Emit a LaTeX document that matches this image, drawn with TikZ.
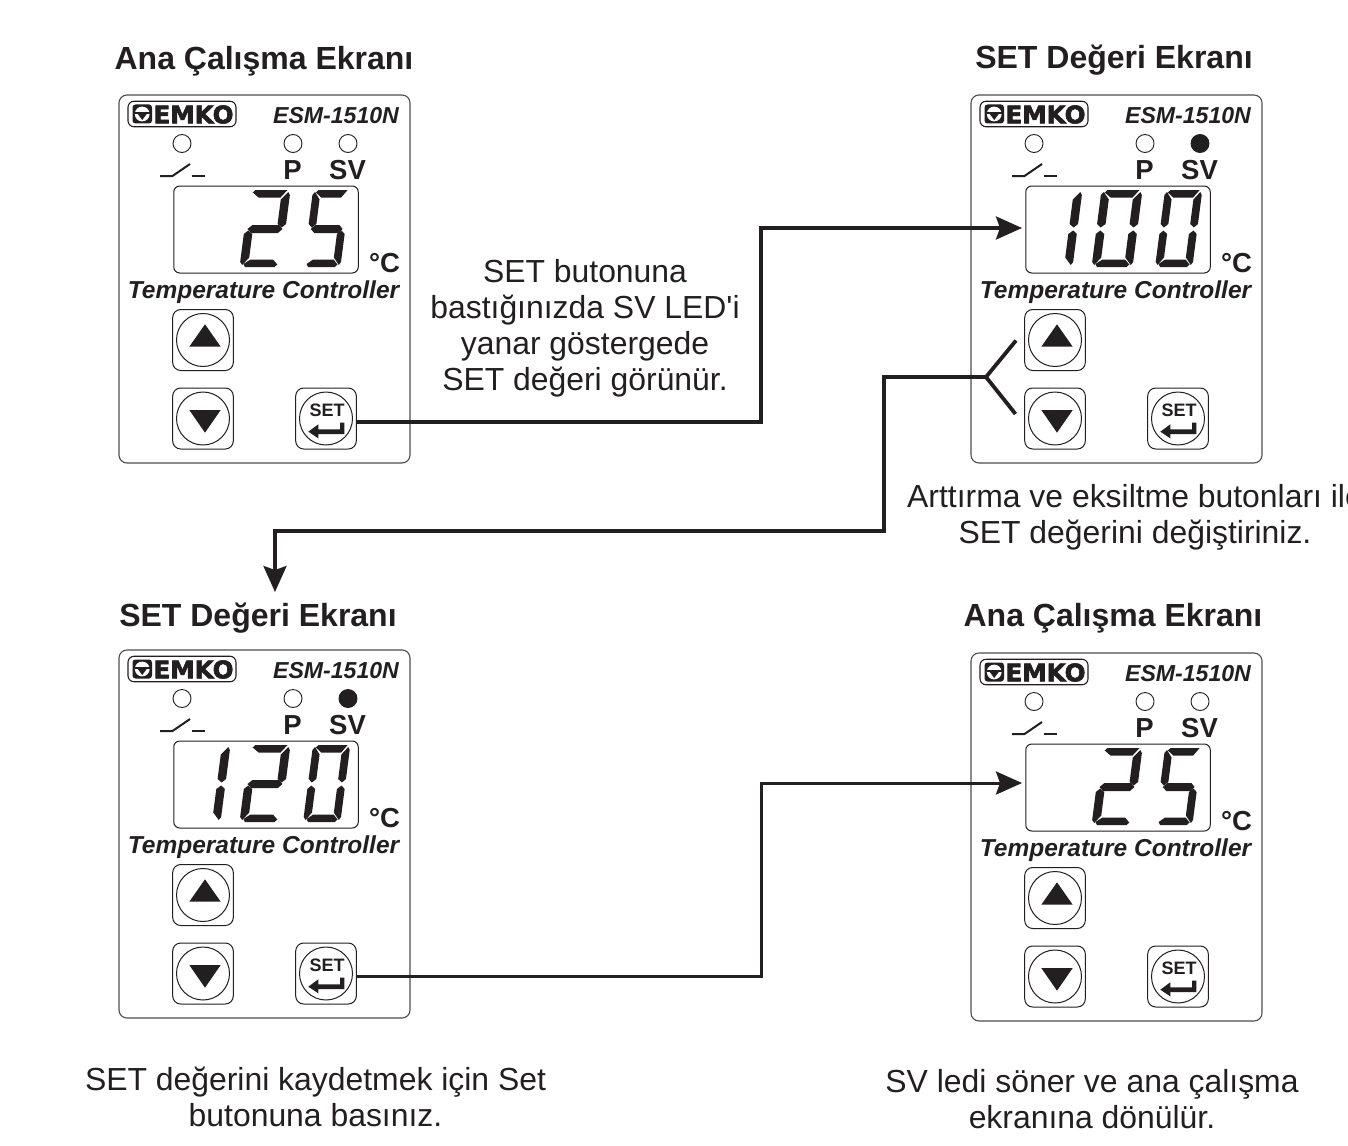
\documentclass[tikz,border=0pt]{standalone}
\usepackage{fontspec}
\usepackage{graphicx}
\setmainfont{Liberation Sans}
\newfontfamily\plainsans{Liberation Sans}
\newfontfamily\logofont[UprightFont=* Bold,FakeBold=2.5]{DejaVu Sans}
\usetikzlibrary{arrows.meta}
\definecolor{ink}{HTML}{231F20}
\definecolor{edge}{HTML}{4D4D4F}
\tikzset{
  panelbox/.style={draw=edge,line width=1.1pt,rounded corners=8pt},
  btnbox/.style={draw=ink,line width=1pt,rounded corners=8pt,minimum width=60.6pt,minimum height=61pt,inner sep=0pt,fill=white},
  btnring/.style={draw=ink,line width=1pt,circle,minimum size=53pt,inner sep=0pt},
  ledoff/.style={draw=ink,line width=0.9pt,circle,minimum size=18pt,inner sep=0pt},
  ledon/.style={ledoff,fill=ink},
  dispbox/.style={draw=ink,line width=1pt,rounded corners=6pt,minimum width=184.5pt,minimum height=87pt,inner sep=0pt},
  titletext/.style={font=\fontsize{32}{36}\selectfont\bfseries,text=ink,inner sep=0pt},
  bodytext/.style={font=\fontsize{31.9}{36}\selectfont,text=ink,align=center,inner sep=0pt},
  modeltext/.style={font=\fontsize{23.1}{28}\selectfont\bfseries\itshape,text=ink,inner sep=0pt},
  tempertext/.style={font=\fontsize{24.5}{28}\selectfont\bfseries\itshape,text=ink,inner sep=0pt},
  ledtext/.style={font=\fontsize{27.5}{30}\selectfont\bfseries,text=ink,inner sep=0pt},
  settext/.style={font=\fontsize{18}{20}\selectfont\bfseries,text=ink,inner sep=0pt},
  flowline/.style={draw=ink,line width=3.4pt,miter limit=10},
  flowarrow/.style={flowline,-{Stealth[length=26pt,width=23pt,inset=4pt]}},
}
% seven-segment pieces, local coordinates, y upward from the digit foot
\newcommand{\segA}{\fill[ink] (3,74.5)--(5.5,77)--(37.5,77)--(31.5,69.5)--(9.5,69.5)--cycle;}
\newcommand{\segB}{\fill[ink] (38.5,75)--(40.5,72)--(40.5,43)--(36.5,39.5)--(32,43)--(32,67.5)--cycle;}
\newcommand{\segC}{\fill[ink] (32,33)--(36.5,36.5)--(40.5,33)--(40.5,5)--(38.5,2)--(32,9.5)--cycle;}
\newcommand{\segD}{\fill[ink] (3,3)--(9.5,7.5)--(32,7.5)--(37,2.5)--(34.5,0)--(5,0)--cycle;}
\newcommand{\segE}{\fill[ink] (-0.5,33)--(3.5,36.5)--(8,33)--(8,9.5)--(2,2)--(-0.5,5)--cycle;}
\newcommand{\segF}{\fill[ink] (2,75)--(8,67.5)--(8,43)--(3.5,39.5)--(-0.5,43)--(-0.5,72)--cycle;}
\newcommand{\segG}{\fill[ink] (2.5,38)--(7,42)--(33.5,42)--(37.5,38)--(33.5,34)--(7,34)--cycle;}
\newcommand{\digitat}[2]{\begin{scope}[shift={(#1,267)},x=1pt,y=1pt,xslant=0.13]#2\end{scope}}
\newcommand{\digitnarrow}[2]{\begin{scope}[shift={(#1,267)},x=1pt,y=1pt,xslant=0.13,xscale=0.91]#2\end{scope}}
\newcommand{\twentyfive}{\digitat{240}{\segA\segB\segG\segE\segD}\digitnarrow{303.5}{\segA\segF\segG\segC\segD}}
\newcommand{\hundred}{\digitat{180}{\segB\segC}\digitat{240}{\segA\segB\segC\segD\segE\segF}\digitnarrow{303.5}{\segA\segB\segC\segD\segE\segF}}
\newcommand{\onetwenty}{\digitat{180}{\segB\segC}\digitat{240}{\segA\segB\segG\segE\segD}\digitnarrow{303.5}{\segA\segB\segC\segD\segE\segF}}
% #1 name prefix, #2 dx, #3 dy, #4 SV LED style, #5 digits, #6 y of signal entry at display, #7 y of signal exit
\newcommand{\controller}[7]{%
\begin{scope}[shift={(#2,#3)}]
  \node[panelbox,minimum width=291pt,minimum height=368pt,inner sep=0pt] (#1panel) at (264.5,279) {};
  \node[draw=ink,line width=1.1pt,rounded corners=6pt,minimum width=108pt,minimum height=25.5pt,inner sep=0pt] (#1logo) at (182,114) {};
  \fill[ink,rounded corners=3pt] (132.5,104.5) rectangle (152,123.5);
  \fill[white] (142.2,114) circle[radius=7.4pt];
  \fill[ink] (134.5,111.6) rectangle (150,113.6);
  \fill[ink] (137.5,113.6)--(147,113.6)--(142.2,120)--cycle;
  \node[inner sep=0pt,text=ink] (#1brand) at (193.5,114.5) {\resizebox{80pt}{18pt}{\logofont EMKO}};
  \node[modeltext] (#1model) at (336,115.5) {ESM-1510N};
  \node[ledoff] (#1ledr) at (182,143.5) {};
  \node[ledoff] (#1ledp) at (293,143.5) {};
  \node[#4] (#1ledsv) at (348,143.5) {};
  \draw[ink,line width=2pt] (160,176)--(172.5,176)--(190,164);
  \draw[ink,line width=2pt] (191.5,176)--(205,176);
  \node[ledtext] (#1p) at (292.5,170) {P};
  \node[ledtext] (#1sv) at (347.5,170) {SV};
  \node[dispbox] (#1disp) at (266,229.5) {};
  #5
  \node[ledtext] (#1deg) at (384.5,263) {°C};
  \node[tempertext] (#1temp) at (263.5,292.5) {Temperature Controller};
  \node[btnbox] (#1up) at (203,340) {};
  \node[btnring] (#1upr) at (203,340) {};
  \fill[ink] (189.3,346.7)--(220.7,346.7)--(205,324.3)--cycle;
  \node[btnbox] (#1down) at (203,418.5) {};
  \node[btnring] (#1downr) at (203,418.5) {};
  \fill[ink] (189.3,410)--(220.7,410)--(205,432.7)--cycle;
  \node[btnbox] (#1set) at (326,418.5) {};
  \node[btnring] (#1setr) at (326,418.5) {};
  \node[settext] (#1setl) at (327,410.5) {SET};
  \fill[ink] (308.3,431.7)--(318.3,424.3)--(318.3,429.3)--(340,429.3)--(340,422.7)--(344.3,422.7)--(344.3,434)--(318.3,434)--(318.3,438.3)--cycle;
  \coordinate (#1out) at (356.7,#7);
  \coordinate (#1in) at (170,#6);
  \coordinate (#1upin) at (164,340.5);
  \coordinate (#1downin) at (163.5,414);
\end{scope}}
\begin{document}
\begin{tikzpicture}[x=1pt,y=-1pt]
\useasboundingbox (0,0) rectangle (1348,1145);
\clip (0,0) rectangle (1348,1145);
\fill[white] (0,0) rectangle (1348,1145);

\node[titletext] (t1) at (264,61) {Ana Çalışma Ekranı};
\node[titletext] (t2) at (1114,60.5) {SET Değeri Ekranı};
\node[titletext] (t3) at (258,618) {SET Değeri Ekranı};
\node[titletext] (t4) at (1113,618) {Ana Çalışma Ekranı};

\controller{a}{0}{0}{ledoff}{\twentyfive}{228}{422}
\controller{b}{852}{0}{ledon}{\hundred}{228}{422}
\controller{c}{0}{555}{ledon}{\onetwenty}{228}{421}
\controller{d}{852}{558}{ledoff}{\twentyfive}{225}{422}

\node[bodytext] (n1) at (585,328.5) {SET butonuna\\bastığınızda SV LED{\plainsans\char"27}i\\yanar göstergede\\SET değeri görünür.};
\node[bodytext] (n2) at (1135,517.5) {Arttırma ve eksiltme butonları ile\\SET değerini değiştiriniz.};
\node[bodytext] (n3) at (315.5,1097) {SET değerini kaydetmek için Set\\butonuna basınız.};
\node[bodytext] (n4) at (1092,1099) {SV ledi söner ve ana çalışma\\ekranına dönülür.};

\coordinate (turn1) at (761,0);
\draw[flowarrow] (aout) -| (turn1 |- bin) -- (bin);
\coordinate (fork) at (986,377);
\coordinate (rise) at (884,0);
\coordinate (leftx) at (275,531);
\coordinate (cin2) at (275,592);
\draw[flowline,line width=3.8pt,miter limit=4] (bupin) -- (fork) -- (bdownin);
\draw[flowarrow] (fork) -- (rise |- fork) -- (rise |- leftx) -- (leftx) -- (cin2);
\draw[flowline,line width=3pt,-{Stealth[length=26pt,width=23pt,inset=4pt]}] (cout) -| (turn1 |- din) -- (din);
\end{tikzpicture}
\end{document}
